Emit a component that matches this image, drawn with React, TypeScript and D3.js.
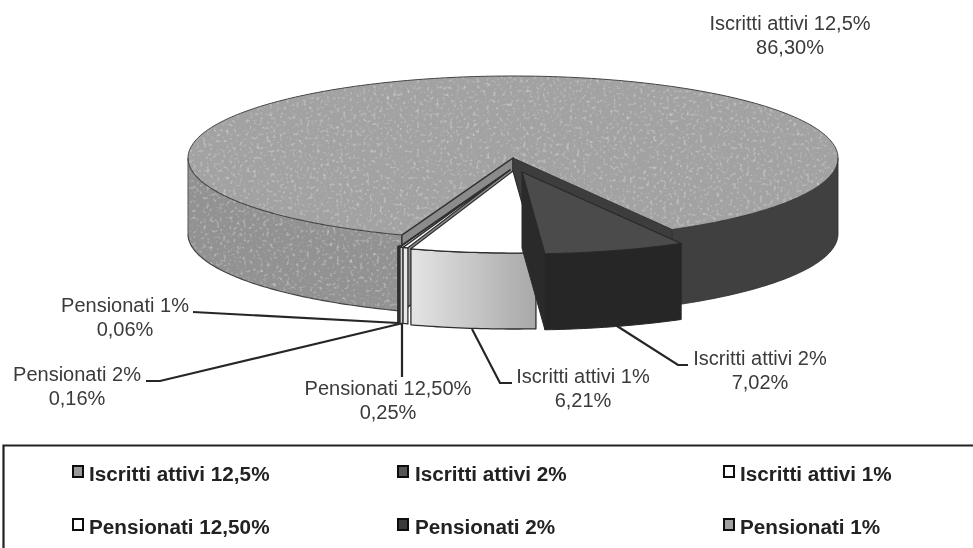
import React from "react";
import * as d3 from "d3";

const labels = ["Iscritti attivi 12,5%", "Iscritti attivi 2%", "Iscritti attivi 1%", "Pensionati 12,50%", "Pensionati 2%", "Pensionati 1%"];
const values = [86.3, 7.02, 6.21, 0.25, 0.16, 0.06];
const valueLabels = ["86,30%", "7,02%", "6,21%", "0,25%", "0,16%", "0,06%"];
const topColors = ["#a2a2a2", "#4b4b4b", "#ffffff", "#ffffff", "#d8d8d8", "#8f8f8f"];
const wallColors = ["#929292", "#262626", "url(#lightWall)", "#e8e8e8", "#cfcfcf", "#222222"];
const swatchColors = ["#9a9a9a", "#555555", "#ffffff", "#ffffff", "#3a3a3a", "#a0a0a0"];
const offsets: [number, number][] = [[0, 0], [9, 14], [0, 13], [-3, 12], [-3, 12], [-3, 12]];
const labelBoxes: [number, number][] = [[790, 30], [760, 365], [583, 383], [388, 395], [77, 381], [125, 312]];
const leaders: [number, number][][] = [
  [],
  [[617, 326], [678, 365], [688, 365]],
  [[472, 329], [500, 383], [512, 383]],
  [[402, 324], [402, 377]],
  [[399, 324], [160, 381], [146, 381]],
  [[398, 323], [193, 312]],
];
const swatchX = [72, 397, 723];
const legendX = [89, 415, 740];
const legendY = [481, 534];

const CX = 513, CY = 158, RX = 325, RY = 82, DEPTH = 76;
const rad = (d: number) => (d * Math.PI) / 180;
const pie = d3.pie<number>().sort(null).startAngle(rad(200)).endAngle(rad(560));
const arcs = pie(values);
const sx = d3.scaleLinear().domain([-1, 1]).range([CX - RX, CX + RX]);
const sy = d3.scaleLinear().domain([-1, 1]).range([CY - RY, CY + RY]);

function pt(a: number, i: number, dy = 0): [number, number] {
  return [sx(Math.sin(a)) + offsets[i][0], sy(-Math.cos(a)) + offsets[i][1] + dy];
}
function apex(i: number, dy = 0): [number, number] {
  return [sx(0) + offsets[i][0], sy(0) + offsets[i][1] + dy];
}
const line = d3.line();
function rim(a0: number, a1: number, i: number, dy = 0): [number, number][] {
  const n = Math.max(2, Math.ceil(Math.abs(a1 - a0) / rad(1)));
  return d3.range(n + 1).map((k) => pt(a0 + ((a1 - a0) * k) / n, i, dy));
}
const top = (a0: number, a1: number, i: number) => line([apex(i), ...rim(a0, a1, i)]) + "Z";
const wall = (a0: number, a1: number, i: number) =>
  line([...rim(a0, a1, i), ...rim(a1, a0, i, DEPTH)]) + "Z";
const cut = (a: number, i: number) => line([apex(i), pt(a, i), pt(a, i, DEPTH), apex(i, DEPTH)]) + "Z";

const stroke = "#2e2e2e";

export default function App() {
  const m = arcs[0];
  const drawOrder = [5, 4, 3, 2];
  return (
    <svg width={973} height={548} style={{ position: "absolute", left: 0, top: 0, background: "#fff" }} fontFamily="'Liberation Sans', Arial, sans-serif">
      <defs>
        <linearGradient id="lightWall" x1="0" x2="1" y1="0" y2="0">
          <stop offset="0" stopColor="#e4e4e4" />
          <stop offset="1" stopColor="#a8a8a8" />
        </linearGradient>
        <filter id="grain" x="0" y="0" width="100%" height="100%">
          <feTurbulence type="fractalNoise" baseFrequency="0.3" numOctaves="2" seed="4" />
          <feColorMatrix values="0 0 0 0 1  0 0 0 0 1  0 0 0 0 1  1.0 0 0 0 -0.55" />
          <feComposite in2="SourceGraphic" operator="in" result="n" />
          <feMerge>
            <feMergeNode in="SourceGraphic" />
            <feMergeNode in="n" />
          </feMerge>
        </filter>
        <filter id="soft"><feGaussianBlur stdDeviation="0.55" /></filter>
      </defs>
      <g filter="url(#soft)">
        <g filter="url(#grain)">
          <path d={top(m.startAngle, m.endAngle, 0)} fill={topColors[0]} />
          <path d={wall(m.startAngle, rad(270), 0)} fill={wallColors[0]} />
        </g>
        <path d={wall(rad(450), m.endAngle, 0)} fill="#414141" stroke="#2a2a2a" strokeWidth={0.8} />
        <path d={line(rim(m.startAngle, rad(270), 0, DEPTH))!} fill="none" stroke="#444" strokeWidth={1.2} />
        <path d={line(rim(m.startAngle, rad(270), 0))!} fill="none" stroke="#444" strokeWidth={1.1} />
        <path d={line([pt(rad(270), 0), pt(rad(270), 0, DEPTH)])!} fill="none" stroke="#555" strokeWidth={1} />
        <path d={line(rim(rad(270), rad(450), 0))!} fill="none" stroke="#444" strokeWidth={1} />
        <path d={cut(m.startAngle, 0)} fill="#8b8b8b" stroke={stroke} strokeWidth={1.4} />
        <path d={cut(m.endAngle, 0)} fill="#3c3c3c" stroke="#333" strokeWidth={1} />
        {drawOrder.map((i) => {
          const a = arcs[i];
          return (
            <g key={labels[i]} stroke={stroke} strokeWidth={i === 5 ? 3.5 : 1.3} strokeLinejoin="round">
              <path d={wall(a.startAngle, a.endAngle, i)} fill={wallColors[i]} />
              <path d={top(a.startAngle, a.endAngle, i)} fill={topColors[i]} strokeWidth={1.2} />
            </g>
          );
        })}
        <path d={cut(arcs[1].endAngle, 1)} fill="#2a2a2a" stroke="#2a2a2a" strokeWidth={1} />
        <path d={wall(arcs[1].startAngle, arcs[1].endAngle, 1)} fill="#262626" stroke="#262626" strokeWidth={1} />
        <path d={top(arcs[1].startAngle, arcs[1].endAngle, 1)} fill={topColors[1]} stroke="#2a2a2a" strokeWidth={1.2} />
        {leaders.map((l, i) => l.length > 0 && (
          <path key={i} d={line(l)!} fill="none" stroke="#262626" strokeWidth={2.2} />
        ))}
        <g fill="#3a3a3a" fontSize={20} textAnchor="middle">
          {labels.map((t, i) => (
            <text key={t} x={labelBoxes[i][0]} y={labelBoxes[i][1]}>
              <tspan x={labelBoxes[i][0]}>{t}</tspan>
              <tspan x={labelBoxes[i][0]} dy={24}>{valueLabels[i]}</tspan>
            </text>
          ))}
        </g>
        <path d="M3.5,548V445.5H973" fill="none" stroke="#222" strokeWidth={2.2} />
        <g fontSize={20.7} fontWeight="bold" fill="#222">
          {labels.map((t, i) => {
            const c = i % 3, y = legendY[Math.floor(i / 3)];
            return (
              <g key={t}>
                <rect x={swatchX[c] + 1} y={y - 15} width={10} height={11} fill={swatchColors[i]} stroke="#111" strokeWidth={2} />
                <text x={legendX[c]} y={y}>{t}</text>
              </g>
            );
          })}
        </g>
      </g>
    </svg>
  );
}
